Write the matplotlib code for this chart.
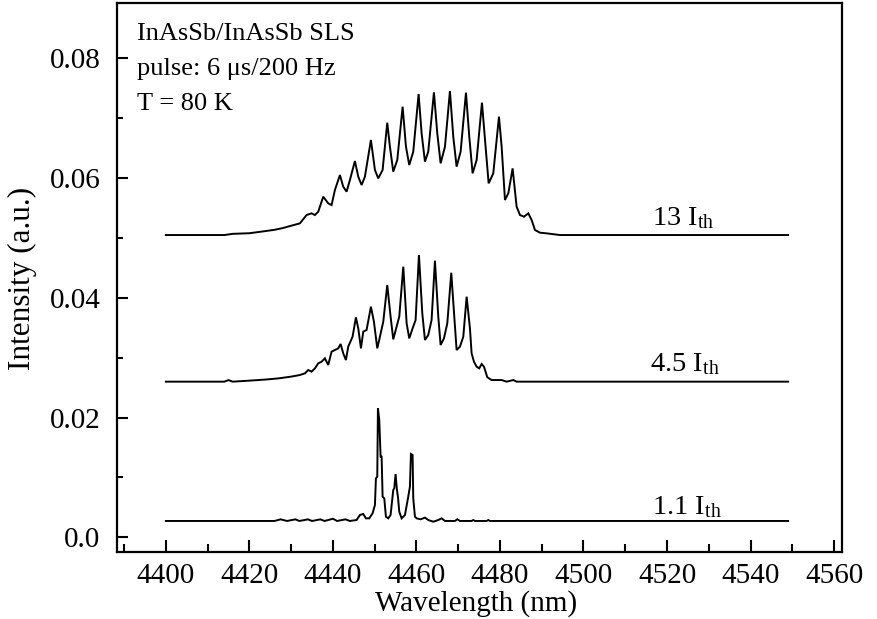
import matplotlib
matplotlib.use("Agg")
import matplotlib.pyplot as plt
from matplotlib.ticker import MultipleLocator, FixedLocator, FixedFormatter

plt.rcParams["font.family"] = ["Liberation Serif", "DejaVu Serif"]
plt.rcParams["mathtext.fontset"] = "custom"
plt.rcParams["mathtext.rm"] = "Liberation Serif"
plt.rcParams["mathtext.it"] = "Liberation Serif:italic"

# ---- spectra (wavelength in nm, intensity in a.u.) ----
wl_13 = [4400.0, 4414.0, 4416.0, 4420.0, 4423.0, 4426.0, 4428.0, 4430.0,
         4432.10, 4433.69, 4434.89, 4435.69, 4436.49, 4437.68, 4438.88, 4439.68,
         4440.48, 4441.68, 4442.47, 4443.27, 4444.07, 4445.27, 4446.07, 4446.87,
         4447.66, 4449.10, 4450.06, 4450.86, 4451.90, 4453.01, 4453.65, 4454.45,
         4455.41, 4456.69, 4457.49, 4458.28, 4459.24, 4460.52, 4461.24, 4462.04,
         4462.83, 4464.19, 4464.99, 4465.79, 4466.83, 4468.02, 4468.82, 4469.62,
         4470.58, 4471.86, 4472.65, 4473.45, 4474.41, 4475.69, 4476.49, 4477.29,
         4478.40, 4479.76, 4480.40, 4481.20, 4482.00, 4483.03, 4483.99, 4484.79,
         4485.75, 4486.79, 4487.58, 4488.38, 4489.58, 4491.18, 4494.37, 4549.0]
int_13 = [0.05048, 0.05048, 0.05068, 0.05078, 0.05106, 0.05135, 0.05164, 0.05203,
          0.05243, 0.05382, 0.05410, 0.05382, 0.05438, 0.05688, 0.05577, 0.05549,
          0.05800, 0.06050, 0.05855, 0.05772, 0.05967, 0.06284, 0.06022, 0.05883,
          0.06022, 0.06635, 0.06134, 0.05994, 0.06134, 0.06924, 0.06523, 0.06106,
          0.06301, 0.07191, 0.06523, 0.06217, 0.06440, 0.07402, 0.06746, 0.06273,
          0.06440, 0.07430, 0.06746, 0.06245, 0.06523, 0.07452, 0.06690, 0.06190,
          0.06440, 0.07425, 0.06690, 0.06078, 0.06301, 0.07258, 0.06579, 0.05911,
          0.06078, 0.07024, 0.06523, 0.05633, 0.05744, 0.06161, 0.05521, 0.05382,
          0.05354, 0.05410, 0.05299, 0.05132, 0.05087, 0.05076, 0.05048, 0.05048]

wl_45 = [4400.0, 4414.0, 4415.0, 4416.0, 4420.0, 4424.0, 4427.0, 4430.0,
         4432.10, 4433.29, 4434.09, 4434.89, 4435.69, 4436.49, 4437.29, 4438.08,
         4438.88, 4439.68, 4440.48, 4441.28, 4441.84, 4442.47, 4443.11, 4443.67,
         4444.71, 4445.51, 4446.07, 4446.71, 4447.27, 4448.06, 4449.10, 4449.82,
         4450.62, 4451.26, 4452.06, 4453.01, 4453.81, 4454.45, 4455.25, 4455.89,
         4456.85, 4457.65, 4458.28, 4459.08, 4459.80, 4460.60, 4461.40, 4462.04,
         4462.83, 4463.63, 4464.43, 4465.23, 4465.79, 4466.59, 4467.39, 4468.34,
         4469.06, 4469.62, 4470.42, 4471.22, 4472.02, 4472.81, 4473.21, 4473.77,
         4474.41, 4475.05, 4475.61, 4476.17, 4476.97, 4478.00, 4480.40, 4481.60,
         4483.19, 4483.99, 4549.0]
int_45 = [0.02600, 0.02600, 0.02626, 0.02600, 0.02617, 0.02636, 0.02655, 0.02684,
          0.02711, 0.02739, 0.02794, 0.02767, 0.02822, 0.02906, 0.02933, 0.02989,
          0.02878, 0.03101, 0.03128, 0.03156, 0.03229, 0.03073, 0.02961, 0.03184,
          0.03351, 0.03674, 0.03490, 0.03156, 0.03435, 0.03462, 0.03852, 0.03602,
          0.03156, 0.03351, 0.03602, 0.04214, 0.03685, 0.03307, 0.03518, 0.03685,
          0.04520, 0.03574, 0.03323, 0.03490, 0.03629, 0.04715, 0.03741, 0.03295,
          0.03379, 0.03629, 0.04620, 0.03685, 0.03212, 0.03323, 0.03574, 0.04419,
          0.03685, 0.03128, 0.03184, 0.03351, 0.04019, 0.03490, 0.03073, 0.02933,
          0.02850, 0.02822, 0.02895, 0.02850, 0.02673, 0.02627, 0.02627, 0.02600,
          0.02627, 0.02600, 0.02600]

wl_11 = [4400.0, 4426.0, 4427.5, 4429.0, 4431.0, 4432.0, 4434.0, 4435.0,
         4437.0, 4438.0, 4440.0, 4441.0, 4443.0,
         4444.07, 4445.67, 4446.47, 4447.27, 4447.90, 4448.70, 4449.50, 4450.06,
         4450.30, 4450.62, 4450.78, 4451.10, 4451.42, 4451.66, 4451.90, 4452.30,
         4452.69, 4453.25, 4453.81, 4454.45, 4454.69, 4455.01, 4455.33, 4455.57,
         4455.89, 4456.45, 4457.25, 4458.04, 4458.44, 4458.68, 4459.08, 4459.24,
         4459.64, 4460.04, 4460.99, 4462.04, 4462.83, 4464.03, 4465.23, 4466.03,
         4466.83, 4469.22, 4469.78, 4470.42, 4473.21, 4473.61, 4474.01, 4476.81,
         4477.21, 4477.60, 4549.0]
int_11 = [0.00274, 0.00274, 0.00301, 0.00274, 0.00301, 0.00274, 0.00301, 0.00274,
          0.00301, 0.00274, 0.00311, 0.00274, 0.00301,
          0.00274, 0.00290, 0.00374, 0.00391, 0.00318, 0.00318, 0.00402, 0.00541,
          0.00986, 0.01014, 0.02155, 0.01960, 0.01348, 0.01348, 0.00680, 0.00652,
          0.00346, 0.00318, 0.00374, 0.00791, 0.00819, 0.01058, 0.00791, 0.00680,
          0.00429, 0.00318, 0.00374, 0.00680, 0.00847, 0.01392, 0.01376, 0.00652,
          0.00346, 0.00318, 0.00302, 0.00330, 0.00290, 0.00262, 0.00290, 0.00318,
          0.00274, 0.00274, 0.00302, 0.00274, 0.00274, 0.00290, 0.00274, 0.00274,
          0.00290, 0.00274, 0.00274]

series = [(wl_13, int_13), (wl_45, int_45), (wl_11, int_11)]
curve_labels = [r"13 I$_{\mathregular{th}}$", r"4.5 I$_{\mathregular{th}}$",
                r"1.1 I$_{\mathregular{th}}$"]
label_x = [4516.5, 4516.0, 4516.5]
label_y = [0.05222, 0.02771, 0.00397]

y_ticks = [0.0, 0.02, 0.04, 0.06, 0.08]
y_tick_labels = ["0.0", "0.02", "0.04", "0.06", "0.08"]
x_ticks = [4400, 4420, 4440, 4460, 4480, 4500, 4520, 4540, 4560]

info_lines = ["InAsSb/InAsSb SLS", "pulse: 6 \u03bcs/200 Hz", "T = 80 K"]

fig = plt.figure(figsize=(8.77, 6.19), dpi=100)
ax_left, ax_right, ax_top, ax_bottom = 117, 842, 3, 552
ax = fig.add_axes([ax_left / 877, 1 - ax_bottom / 619,
                   (ax_right - ax_left) / 877, (ax_bottom - ax_top) / 619])
ax_w = ax_right - ax_left
ax_h = ax_bottom - ax_top

for wl, inten in series:
    ax.plot(wl, inten, color="black", lw=1.4, solid_joinstyle="miter")

for txt, lx, ly in zip(curve_labels, label_x, label_y):
    ax.text(lx, ly, txt, fontsize=20.5, ha="left", va="baseline")

for i, line in enumerate(info_lines):
    ax.text(20 / ax_w, 1 - (40.5 + 35 * i - ax_top) / ax_h, line,
            transform=ax.transAxes, fontsize=19, ha="left", va="baseline")

ax.set_xlim(4388.3, 4561.9)
ax.set_ylim(-0.00244, 0.08922)

ax.xaxis.set_major_locator(FixedLocator(x_ticks))
ax.xaxis.set_minor_locator(MultipleLocator(10))
ax.yaxis.set_major_locator(FixedLocator(y_ticks))
ax.yaxis.set_major_formatter(FixedFormatter(y_tick_labels))
ax.yaxis.set_minor_locator(MultipleLocator(0.01))

ax.tick_params(which="both", direction="in", top=False, right=False,
               labelsize=21, width=1.5)
ax.tick_params(axis="x", which="major", length=9, pad=8)
ax.tick_params(axis="x", which="minor", length=6)
ax.tick_params(axis="y", which="major", length=8, pad=12)
ax.tick_params(axis="y", which="minor", length=4)

for sp in ax.spines.values():
    sp.set_linewidth(1.6)

ax.set_xlabel("Wavelength (nm)", fontsize=21, va="center")
ax.xaxis.set_label_coords((476 - ax_left) / ax_w, (ax_bottom - 604) / ax_h)
ax.set_ylabel("Intensity (a.u.)", fontsize=22.5, va="center")
ax.yaxis.set_label_coords((22 - ax_left) / ax_w, (ax_bottom - 278) / ax_h)

fig.savefig("out.png", dpi=100)
